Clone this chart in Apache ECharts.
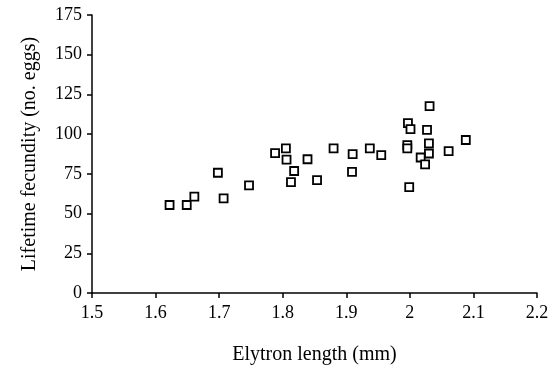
<!DOCTYPE html>
<html><head><meta charset="utf-8">
<script src="https://cdn.jsdelivr.net/npm/echarts@6/dist/echarts.min.js"></script>
<style>html,body{margin:0;padding:0;background:#fff}#c{width:558px;height:370px}</style>
</head><body><div id="c"></div>
<script>
var elytronLength = [1.622,1.649,1.661,1.698,1.707,1.747,1.788,1.805,1.806,1.839,1.818,1.813,1.854,1.880,1.910,1.909,1.937,1.955,2.031,1.997,2.001,2.027,1.996,1.996,2.030,2.030,2.017,2.024,2.061,2.088,1.999];
var fecundity   = [55.4,55.4,60.7,75.7,59.6,67.7,88.0,91.0,84.0,84.2,76.8,69.8,71.1,91.0,87.4,76.2,91.0,86.8,117.6,106.9,103.1,102.7,93.1,91.0,94.2,87.8,85.3,81.0,89.3,96.3,66.6];
var xTitle = 'Elytron length (mm)';
var yTitle = 'Lifetime fecundity (no. eggs)';
var pts = elytronLength.map(function(x,i){return [x,fecundity[i]];});
var font = 'Liberation Serif';
var chart = echarts.init(document.getElementById('c'));
chart.setOption({
  animation:false,
  backgroundColor:'#fff',
  grid:{left:92,right:21,top:15,bottom:76},
  xAxis:{type:'value',min:1.5,max:2.2,interval:0.1,
    name:xTitle,nameLocation:'middle',nameGap:52,
    nameTextStyle:{fontFamily:font,fontSize:20,color:'#000'},
    axisLine:{lineStyle:{color:'#000',width:1.5}},
    axisTick:{length:5,lineStyle:{color:'#000',width:1.5}},
    axisLabel:{fontFamily:font,fontSize:18,color:'#000',margin:11,
      formatter:function(v){return String(Math.round(v*10)/10);}},
    splitLine:{show:false}},
  yAxis:{type:'value',min:0,max:175,interval:25,
    name:yTitle,nameLocation:'middle',nameGap:52,
    nameTextStyle:{fontFamily:font,fontSize:20,color:'#000'},
    axisLine:{show:true,lineStyle:{color:'#000',width:1.5}},
    axisTick:{show:true,length:5,lineStyle:{color:'#000',width:1.5}},
    axisLabel:{fontFamily:font,fontSize:18,color:'#000',margin:10},
    splitLine:{show:false}},
  series:[{type:'scatter',data:pts,symbol:'rect',symbolSize:8,
    itemStyle:{color:'#fff',borderColor:'#000',borderWidth:1.8,opacity:1}}]
});
</script></body></html>
